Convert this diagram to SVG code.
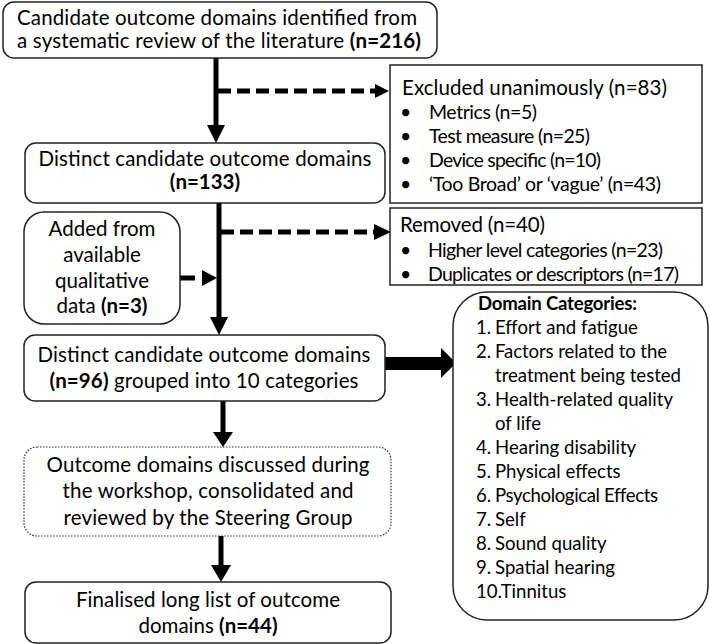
<svg xmlns="http://www.w3.org/2000/svg" width="710" height="644" viewBox="0 0 710 644">
<style>
text{font-family:Lato,"Liberation Sans",sans-serif;font-size:20.5px;fill:#000}
.c{text-anchor:middle}
.b{font-weight:bold}
.s{font-size:19.5px}
.d{font-size:18.6px}
.box{fill:#fff;stroke:#222;stroke-width:1.5}
.dot{fill:#fff;stroke:#333;stroke-width:1.2;stroke-dasharray:1.5 1.5}
.ln{stroke:#000;stroke-width:5;fill:none}
.dash{stroke:#000;stroke-width:5;fill:none;stroke-dasharray:13 6}
.ah{fill:#000}
</style>
<g id="connectors">
<line class="ln" x1="216" y1="58" x2="216" y2="127"/>
<polygon class="ah" points="207,125 225,125 216,143"/>
<line class="dash" x1="218" y1="91" x2="375" y2="91"/>
<polygon class="ah" points="375,84 375,98 389,91"/>
<line class="ln" x1="219" y1="203" x2="219" y2="320"/>
<polygon class="ah" points="210,317 228,317 219,335"/>
<line class="dash" x1="221" y1="232" x2="374" y2="232"/>
<polygon class="ah" points="374,224 374,240 391,232"/>
<line class="ln" x1="180" y1="278" x2="195" y2="278"/>
<polygon class="ah" points="202,270 202,286 217,278"/>
<line class="ln" x1="223" y1="401" x2="223" y2="434"/>
<polygon class="ah" points="213,432 233,432 223,447"/>
<line class="ln" x1="221" y1="536" x2="221" y2="567"/>
<polygon class="ah" points="211,565 231,565 221,582"/>
<rect class="ah" x="385" y="357" width="58" height="13"/>
<polygon class="ah" points="441,348 441,378 456,363"/>
</g>
<g id="n1">
<rect class="box" x="3" y="2" width="434" height="56" rx="11"/>
<text x="17" y="25" textLength="400" lengthAdjust="spacing">Candidate outcome domains identified from</text>
<text x="17" y="48" textLength="404" lengthAdjust="spacing">a systematic review of the literature <tspan class="b">(n=216)</tspan></text>
</g>
<g id="n2">
<rect class="box" x="25" y="143" width="360" height="60" rx="11"/>
<text class="c" x="205" y="166" textLength="333" lengthAdjust="spacing">Distinct candidate outcome domains</text>
<text class="c b" x="205" y="189">(n=133)</text>
</g>
<g id="excluded">
<rect class="box" x="390" y="65" width="312" height="138"/>
<text x="402" y="95" textLength="265" lengthAdjust="spacing">Excluded unanimously (n=83)</text>
<text class="s" x="400" y="119">•</text><text class="s" x="429" y="119" textLength="108" lengthAdjust="spacing">Metrics (n=5)</text>
<text class="s" x="400" y="143">•</text><text class="s" x="429" y="143" textLength="161" lengthAdjust="spacing">Test measure (n=25)</text>
<text class="s" x="400" y="167">•</text><text class="s" x="429" y="167" textLength="172" lengthAdjust="spacing">Device specific (n=10)</text>
<text class="s" x="400" y="191">•</text><text class="s" x="429" y="191" textLength="232" lengthAdjust="spacing">‘Too Broad’ or ‘vague’ (n=43)</text>
</g>
<g id="removed">
<rect class="box" x="390" y="208" width="312" height="77"/>
<text x="400" y="232" textLength="145" lengthAdjust="spacing">Removed (n=40)</text>
<text class="s" x="400" y="257">•</text><text class="s" x="428" y="257" textLength="235" lengthAdjust="spacing">Higher level categories (n=23)</text>
<text class="s" x="400" y="281">•</text><text class="s" x="428" y="281" textLength="251" lengthAdjust="spacing">Duplicates or descriptors (n=17)</text>
</g>
<g id="added">
<rect class="box" x="24" y="212" width="156" height="112" rx="20"/>
<text class="c" x="102" y="236">Added from</text>
<text class="c" x="102" y="262">available</text>
<text class="c" x="102" y="288">qualitative</text>
<text class="c" x="102" y="313">data <tspan class="b">(n=3)</tspan></text>
</g>
<g id="n3">
<rect class="box" x="24" y="335" width="361" height="66" rx="11"/>
<text class="c" x="204" y="362" textLength="333" lengthAdjust="spacing">Distinct candidate outcome domains</text>
<text class="c" x="204" y="388" textLength="309" lengthAdjust="spacing"><tspan class="b">(n=96)</tspan> grouped into 10 categories</text>
</g>
<g id="categories">
<rect class="box" x="453" y="292" width="255" height="328" rx="34"/>
<text class="d b" x="478" y="310" textLength="159" lengthAdjust="spacing">Domain Categories:</text>
<text class="d" x="476" y="334">1.</text><text class="d" x="495" y="334">Effort and fatigue</text>
<text class="d" x="476" y="358">2.</text><text class="d" x="495" y="358" textLength="172" lengthAdjust="spacing">Factors related to the</text>
<text class="d" x="495" y="382" textLength="186" lengthAdjust="spacing">treatment being tested</text>
<text class="d" x="476" y="406">3.</text><text class="d" x="495" y="406" textLength="178" lengthAdjust="spacing">Health-related quality</text>
<text class="d" x="495" y="430">of life</text>
<text class="d" x="476" y="454">4.</text><text class="d" x="495" y="454">Hearing disability</text>
<text class="d" x="476" y="478">5.</text><text class="d" x="495" y="478">Physical effects</text>
<text class="d" x="476" y="502">6.</text><text class="d" x="495" y="502" textLength="163" lengthAdjust="spacing">Psychological Effects</text>
<text class="d" x="476" y="526">7.</text><text class="d" x="495" y="526">Self</text>
<text class="d" x="476" y="550">8.</text><text class="d" x="495" y="550">Sound quality</text>
<text class="d" x="476" y="574">9.</text><text class="d" x="495" y="574">Spatial hearing</text>
<text class="d" x="476" y="598">10.Tinnitus</text>
</g>
<g id="n4">
<rect class="dot" x="24" y="447" width="367" height="89" rx="13"/>
<text class="c" x="208" y="472" textLength="323" lengthAdjust="spacing">Outcome domains discussed during</text>
<text class="c" x="208" y="498" textLength="291" lengthAdjust="spacing">the workshop, consolidated and</text>
<text class="c" x="208" y="525" textLength="289" lengthAdjust="spacing">reviewed by the Steering Group</text>
</g>
<g id="n5">
<rect class="box" x="25" y="582" width="366" height="61" rx="11"/>
<text class="c" x="208" y="607" textLength="264" lengthAdjust="spacing">Finalised long list of outcome</text>
<text class="c" x="208" y="633">domains <tspan class="b">(n=44)</tspan></text>
</g>
</svg>
